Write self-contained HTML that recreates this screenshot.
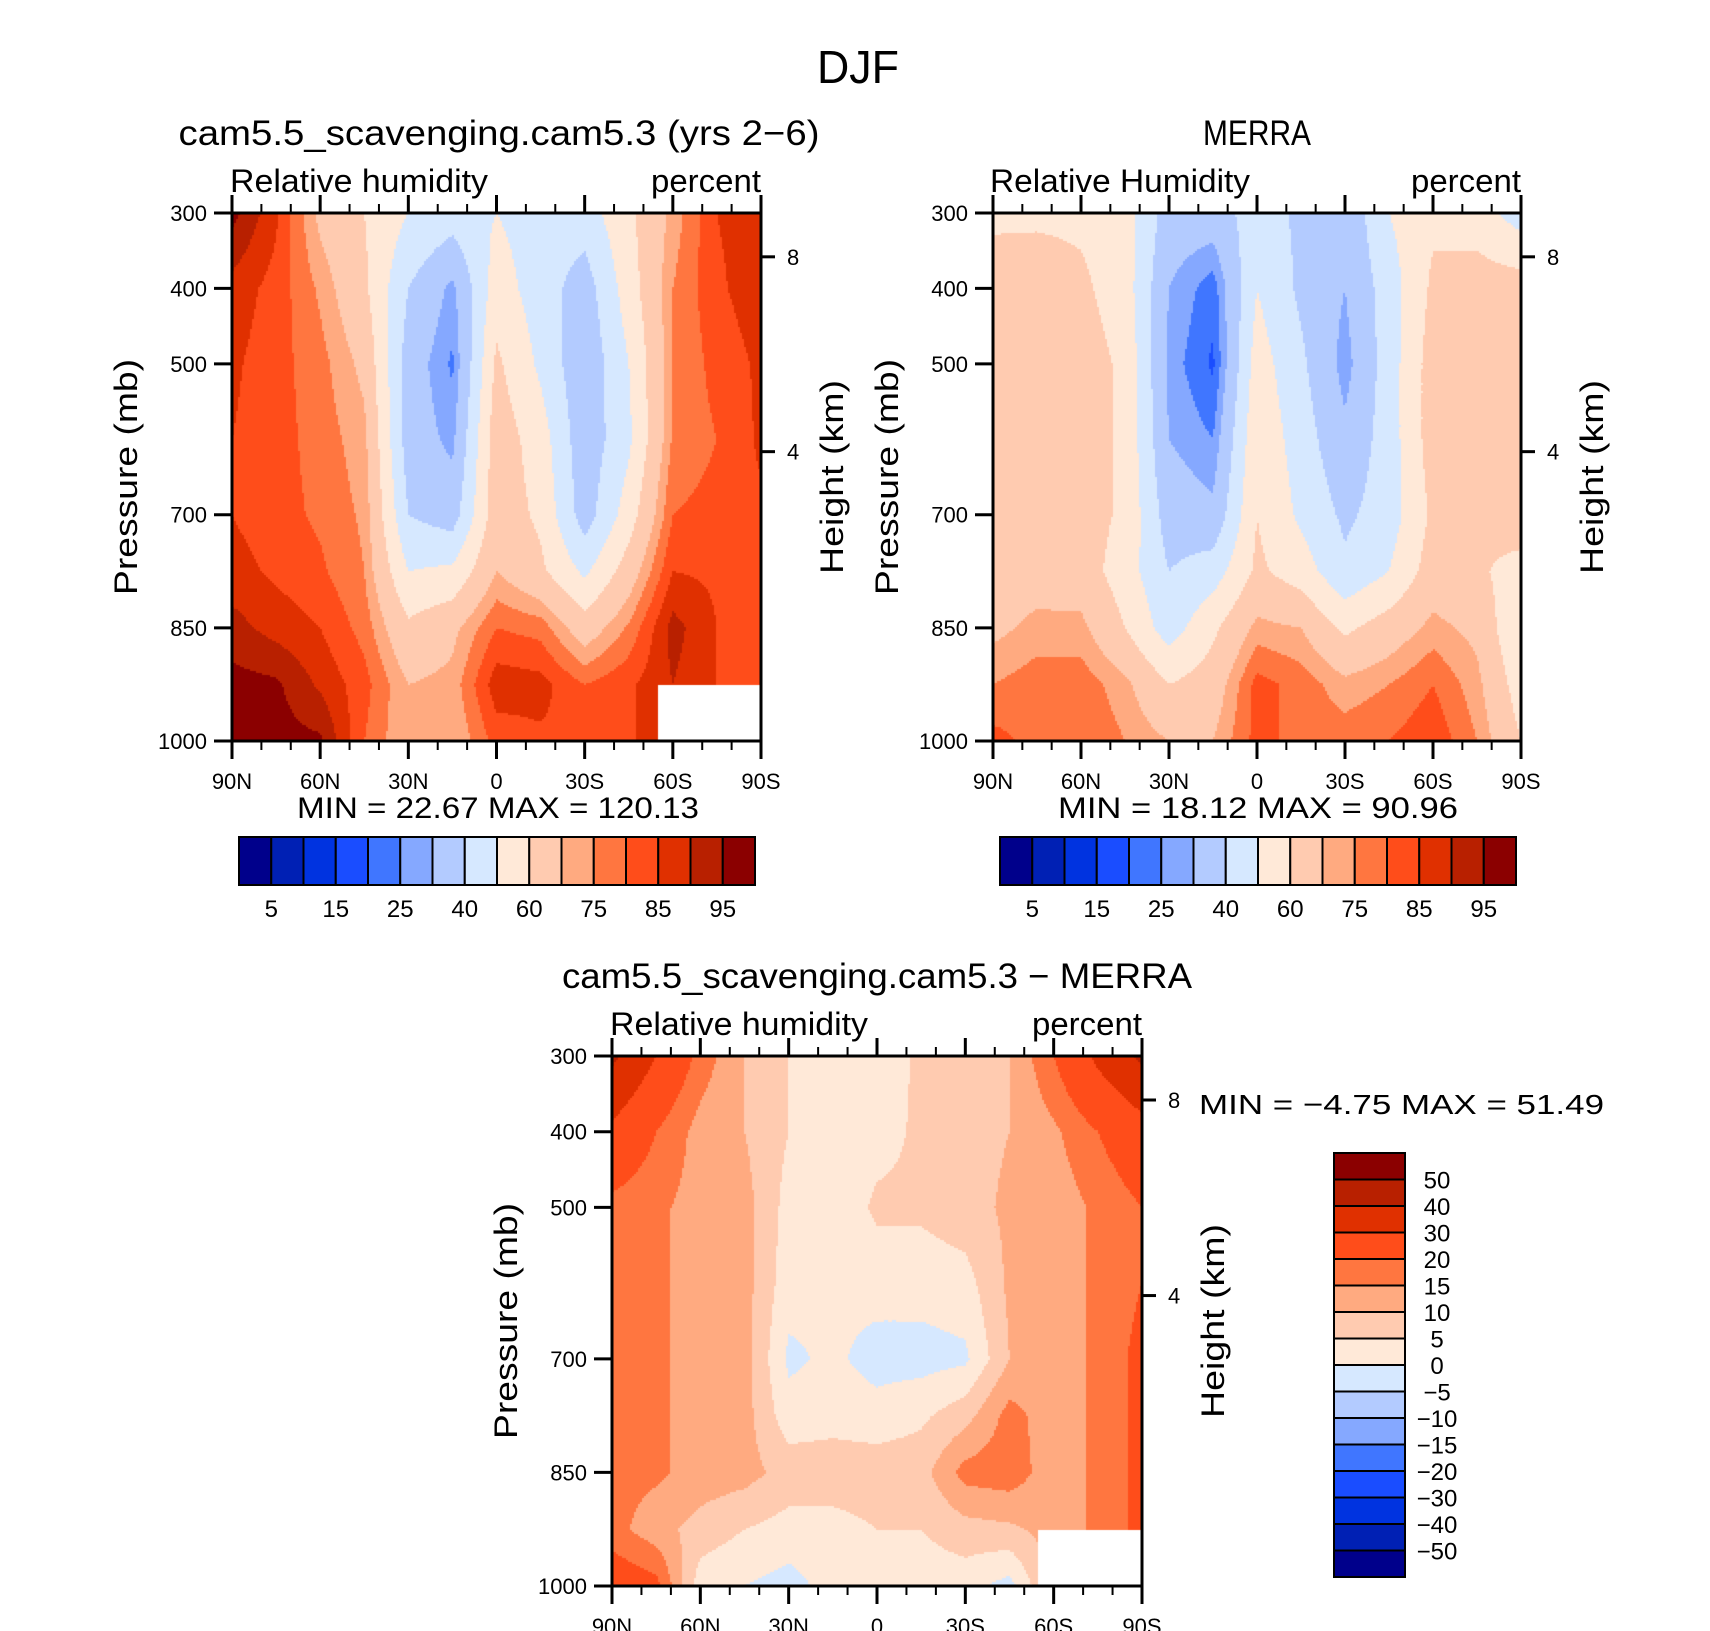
<!DOCTYPE html>
<html><head><meta charset="utf-8">
<style>
html,body{margin:0;padding:0;background:#fff;}
#wrap{position:relative;width:1710px;height:1631px;overflow:hidden;background:#fff;}
canvas{position:absolute;}
svg{position:absolute;left:0;top:0;}
text{font-family:"Liberation Sans",sans-serif;fill:#000;}
</style></head>
<body>
<div id="wrap">
<canvas id="c1"></canvas>
<canvas id="c2"></canvas>
<canvas id="c3"></canvas>
<svg id="ov" width="1710" height="1631"></svg>
</div>
<script>
const lats = [90,75,60,45,30,15,0,-15,-30,-45,-60,-75,-90];
const pressures = [300,400,500,600,700,775,850,925,1000];
const rhLevels = [5,10,15,20,25,30,40,50,60,70,75,80,85,90,95];
const rhLabels = ["5","15","25","40","60","75","85","95"];
const diffLevels = [-50,-40,-30,-20,-15,-10,-5,0,5,10,15,20,30,40,50];
const diffLabels = ["50","40","30","20","15","10","5","0","\u22125","\u221210","\u221215","\u221220","\u221230","\u221240","\u221250"];
const xTickLabels = ["90N","60N","30N","0","30S","60S","90S"];
const yTickLabels = [300,400,500,700,850,1000];
const heightTicks = [8,4];
// values per latitude column, from 300 mb down to 1000 mb
const rhModel = [
 [97,88,86,85,85,87,92,97,97],
 [86,83,82,82,82,84,88,96,97],
 [68,74,77,78,79,81,85,89,96],
 [60,62,68,72,74,75,78,82,80],
 [50,40,35,35,40,50,62,70,70],
 [45,28,24,28,35,52,68,72,70],
 [50,55,62,66,66,70,80,88,82],
 [45,45,48,55,58,62,78,87,84],
 [45,35,32,33,35,48,65,80,84],
 [58,55,50,48,55,65,76,84,84],
 [72,75,75,76,80,85,92,90,90],
 [85,84,82,80,82,84,85,85,85],
 [88,88,86,86,84,82,80,80,80]];
const rhMerra = [
 [58,65,65,65,65,65,68,75,82],
 [58,66,66,66,66,66,72,78,78],
 [58,62,65,65,65,65,72,78,80],
 [55,55,58,58,58,55,60,72,75],
 [35,30,28,30,35,40,45,60,70],
 [35,22,19,25,32,45,58,65,70],
 [45,50,55,58,60,62,72,82,82],
 [38,38,42,45,48,55,70,78,78],
 [32,30,27,32,38,42,58,72,78],
 [50,45,45,45,45,50,65,75,80],
 [58,62,65,65,62,65,72,80,84],
 [55,65,65,65,62,62,68,72,75],
 [45,65,65,65,68,55,50,55,60]];
const rhDiff = [
 [42,28,18,17,17,17,17,17,25],
 [30,20,16,16,16,16,16,12,22],
 [18,13,13,13,13,13,13,8,2],
 [10,10,12,12,12,12,12,5,0],
 [5,5,3,2,-1,2,8,3,-2],
 [5,2,1,1,1,3,8,3,2],
 [2,3,6,2,-2,2,8,5,3],
 [6,6,6,2,-2,4,8,5,2],
 [8,8,8,3,-1,8,17,8,2],
 [10,10,11,11,10,17,18,9,-2],
 [20,14,12,12,12,12,12,12,12],
 [32,20,16,16,16,16,16,16,16],
 [42,26,20,20,22,22,22,22,22]];
const missingLat = -55, missingP = 925;
const palette = ["#00008b","#0020b4","#0033e0","#1a4dff","#4076ff","#85a8ff","#b3cbff","#d6e8ff","#ffe9d8","#ffcbb0","#ffaa80","#ff7640","#ff4d1a","#e03000","#b82000","#8b0000"];

const NS="http://www.w3.org/2000/svg";
const ov=document.getElementById('ov');
function el(tag,attrs,parent){const e=document.createElementNS(NS,tag);for(const k in attrs)e.setAttribute(k,attrs[k]);(parent||ov).appendChild(e);return e;}
function txt(s,x,y,size,anchor,parent,len){const t=el('text',{x:x,y:y,'font-size':size,'text-anchor':anchor||'start'},parent);if(len){t.setAttribute('textLength',len);t.setAttribute('lengthAdjust','spacingAndGlyphs');}t.textContent=s;return t;}

function interp(data,lat,p){
  let i=0;while(i<lats.length-2&&lat<lats[i+1])i++;
  let j=0;while(j<pressures.length-2&&p>pressures[j+1])j++;
  const fx=(lats[i]-lat)/(lats[i]-lats[i+1]);
  const fy=(p-pressures[j])/(pressures[j+1]-pressures[j]);
  const a=data[i][j],b=data[i+1][j],c=data[i][j+1],d=data[i+1][j+1];
  return a*(1-fx)*(1-fy)+b*fx*(1-fy)+c*(1-fx)*fy+d*fx*fy;
}
function level(v,lev){let k=0;while(k<lev.length&&v>=lev[k])k++;return k;}

function panel(id,canvasId,data,lev,box,mask,opts){
  const {x0,y0,w,h}=box;
  const cv=document.getElementById(canvasId);
  cv.width=w;cv.height=h;cv.style.left=x0+'px';cv.style.top=y0+'px';
  const ctx=cv.getContext('2d');
  const st=2;
  for(let py=0;py<h;py+=st){for(let px=0;px<w;px+=st){
    const lat=90-180*(px+st/2)/w;const p=300+700*(py+st/2)/h;
    if(mask&&lat<missingLat&&p>missingP)continue;
    ctx.fillStyle=palette[level(interp(data,lat,p),lev)];
    ctx.fillRect(px,py,st,st);
  }}
  const g=el('g',{});
  
  
  el('rect',{x:x0,y:y0,width:w,height:h,fill:'none',stroke:'#000','stroke-width':3},g);
  const xs=lat=>x0+(90-lat)/180*w, ys=p=>y0+(p-300)/700*h;
  for(let lat=90;lat>=-90;lat-=10){
    const major=lat%30===0;const L=major?18:9;const x=xs(lat);
    el('line',{x1:x,y1:y0,x2:x,y2:y0-L,stroke:'#000','stroke-width':major?3:2},g);
    el('line',{x1:x,y1:y0+h,x2:x,y2:y0+h+L,stroke:'#000','stroke-width':major?3:2},g);
  }
  xTickLabels.forEach((s,i)=>{const t=txt(s,x0+i*w/6,y0+h+48,22,'middle',g);});
  yTickLabels.forEach(p=>{el('line',{x1:x0,y1:ys(p),x2:x0-18,y2:ys(p),stroke:'#000','stroke-width':3},g);
    const t=txt(String(p),x0-25,ys(p)+8,22,'end',g);});
  const hy=[y0+h*0.083,y0+h*0.452];
  heightTicks.forEach((hk,i)=>{el('line',{x1:x0+w,y1:hy[i],x2:x0+w+14,y2:hy[i],stroke:'#000','stroke-width':3},g);
    txt(String(hk),x0+w+26,hy[i]+8,22,'start',g);});
  let t=txt('Pressure  (mb)',0,0,32,'middle',g,236);t.setAttribute('transform',`translate(${x0-95},${y0+h/2}) rotate(-90)`);
  
  t=txt('Height  (km)',0,0,32,'middle',g,194);t.setAttribute('transform',`translate(${x0+w+82},${y0+h/2}) rotate(-90)`);
  
  t=txt(opts.left,opts.lx,y0-21,32,'start',g,opts.lw);
  t=txt('percent',x0+w,y0-21,32,'end',g,110);
  t=txt(opts.title,opts.tx,y0-68,35,'middle',g,opts.tw);
}

const title=txt('DJF',858,83,46,'middle',null,82);



panel('model','c1',rhModel,rhLevels,{x0:232,y0:213,w:529,h:528},true,{left:'Relative  humidity',lx:230,lw:258,title:'cam5.5_scavenging.cam5.3  (yrs  2\u22126)',tx:499,tw:641});
panel('merra','c2',rhMerra,rhLevels,{x0:993,y0:213,w:528,h:528},false,{left:'Relative  Humidity',lx:990,lw:260,title:'MERRA',tx:1257,tw:108});
panel('diff','c3',rhDiff,diffLevels,{x0:612,y0:1056,w:530,h:530},true,{left:'Relative  humidity',lx:610,lw:258,title:'cam5.5_scavenging.cam5.3  \u2212  MERRA',tx:877,tw:630});

let m=txt('MIN  =    22.67    MAX  =  120.13',297,818,30,'start',null,402);


m=txt('MIN  =    18.12    MAX  =    90.96',1058,818,30,'start',null,400);


m=txt('MIN  =    \u22124.75    MAX  =    51.49',1199,1114,28,'start',null,405);



function hbar(x0,y0,w,h,name){
  const g=el('g',{});
  
  
  const bw=w/palette.length;
  palette.forEach((c,i)=>{el('rect',{x:x0+i*bw,y:y0,width:bw,height:h,fill:c,stroke:'#000','stroke-width':2},g);});
  rhLabels.forEach((s,i)=>{txt(s,x0+(2*i+1)*bw,y0+h+32,24,'middle',g);});
}
hbar(239,837,516,48,'model-colorbar');
hbar(1000,837,516,48,'merra-colorbar');
(function(){
  const x0=1334,y0=1153,w=71,h=424;
  const g=el('g',{});
  
  
  const bh=h/palette.length;
  palette.slice().reverse().forEach((c,i)=>{el('rect',{x:x0,y:y0+i*bh,width:w,height:bh,fill:c,stroke:'#000','stroke-width':2},g);});
  diffLabels.forEach((s,i)=>{txt(s,1437,y0+(i+1)*bh+9,24,'middle',g);});
})();
</script>
</body></html>
